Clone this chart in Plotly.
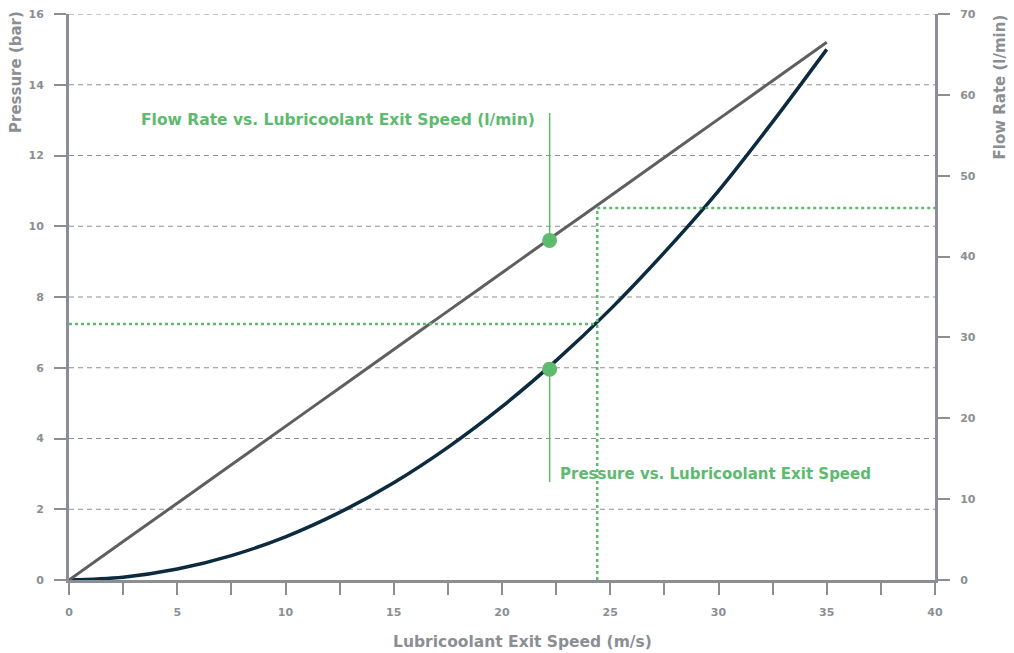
import plotly.graph_objects as go

speed = [0, 2.5, 5, 7.5, 10, 12.5, 15, 17.5, 20, 22.5, 25, 27.5, 30, 32.5, 35]
pressure_bar = [0, 0.08, 0.31, 0.69, 1.22, 1.91, 2.75, 3.75, 4.9, 6.2, 7.65, 9.26, 11.0, 12.95, 15.0]
flow_lmin = [0, 4.75, 9.5, 14.25, 19.0, 23.75, 28.5, 33.25, 38.0, 42.75, 47.5, 52.25, 57.0, 61.75, 66.5]

marker_speed = 22.2
marker_pressure = 5.96
marker_flow = 42.0

ref_speed = 24.4
ref_pressure = 7.24
ref_flow = 46.0

x_ticks = [0, 2.5, 5, 7.5, 10, 12.5, 15, 17.5, 20, 22.5, 25, 27.5, 30, 32.5, 35, 37.5, 40]
x_labels = ["0", "", "5", "", "10", "", "15", "", "20", "", "25", "", "30", "", "35", "", "40"]
y_ticks = [0, 2, 4, 6, 8, 10, 12, 14, 16]
y2_ticks = [0, 10, 20, 30, 40, 50, 60, 70]

GREEN = "#5dba6e"
AXIS = "#8b8f93"
FONT = "DejaVu Sans"

fig = go.Figure()
fig.add_trace(go.Scatter(x=speed, y=flow_lmin, yaxis="y2", mode="lines",
                         line=dict(color="#5e5f61", width=3), line_shape="spline",
                         hoverinfo="skip", showlegend=False))
fig.add_trace(go.Scatter(x=speed, y=pressure_bar, mode="lines",
                         line=dict(color="#0c2b3e", width=3.5), line_shape="spline",
                         hoverinfo="skip", showlegend=False))
fig.add_trace(go.Scatter(x=[marker_speed], y=[marker_flow], yaxis="y2", mode="markers",
                         marker=dict(color=GREEN, size=15), showlegend=False))
fig.add_trace(go.Scatter(x=[marker_speed], y=[marker_pressure], mode="markers",
                         marker=dict(color=GREEN, size=15), showlegend=False))

shapes = []
for t in y_ticks[1:]:
    shapes.append(dict(type="line", xref="x", yref="y", x0=0, x1=40, y0=t, y1=t,
                       line=dict(color="#8e9092", width=1.2, dash="5px,4px"), layer="below"))

ref_top_p = ref_flow * 16 / 70
shapes.append(dict(type="line", xref="x", yref="y", x0=ref_speed, x1=ref_speed, y0=0, y1=ref_top_p,
                   line=dict(color=GREEN, width=2.5, dash="dot")))
shapes.append(dict(type="line", xref="x", yref="y", x0=0, x1=ref_speed, y0=ref_pressure, y1=ref_pressure,
                   line=dict(color=GREEN, width=2.5, dash="dot")))
shapes.append(dict(type="line", xref="x", yref="y2", x0=ref_speed, x1=40, y0=ref_flow, y1=ref_flow,
                   line=dict(color=GREEN, width=2.5, dash="dot")))
shapes.append(dict(type="line", xref="x", yref="y", x0=marker_speed, x1=marker_speed,
                   y0=marker_flow * 16 / 70, y1=13.2, line=dict(color=GREEN, width=1.5)))
shapes.append(dict(type="line", xref="x", yref="y", x0=marker_speed, x1=marker_speed,
                   y0=marker_pressure, y1=2.77, line=dict(color=GREEN, width=1.5)))

annotations = [
    dict(text="<b>Flow Rate vs. Lubricoolant Exit Speed (l/min)</b>", xref="x", yref="y",
         x=marker_speed, y=13.0, xanchor="right", yanchor="middle", xshift=-13, showarrow=False,
         font=dict(family=FONT, size=15.5, color=GREEN)),
    dict(text="<b>Pressure vs. Lubricoolant Exit Speed</b>", xref="x", yref="y",
         x=marker_speed, y=3.0, xanchor="left", yanchor="middle", xshift=8, showarrow=False,
         font=dict(family=FONT, size=15, color=GREEN)),
    dict(text="<b>Pressure (bar)</b>", xref="paper", yref="paper", x=0, y=1,
         xanchor="center", yanchor="top", xshift=-53, yshift=5, textangle=-90, showarrow=False,
         font=dict(family=FONT, size=15, color=AXIS)),
    dict(text="<b>Flow Rate (l/min)</b>", xref="paper", yref="paper", x=1, y=1,
         xanchor="center", yanchor="top", xshift=64, yshift=1, textangle=-90, showarrow=False,
         font=dict(family=FONT, size=15, color=AXIS)),
    dict(text="<b>Lubricoolant Exit Speed (m/s)</b>", xref="paper", yref="paper", x=0.5, y=0,
         xanchor="center", yanchor="middle", xshift=20, yshift=-62, showarrow=False,
         font=dict(family=FONT, size=15.5, color=AXIS)),
]

tf = dict(family=FONT, size=11, color=AXIS, weight="bold")

fig.update_layout(
    width=1014, height=653,
    margin=dict(l=69, r=79, t=14, b=73),
    paper_bgcolor="white", plot_bgcolor="white",
    shapes=shapes, annotations=annotations,
    font=dict(family=FONT, color=AXIS),
    xaxis=dict(range=[0, 40], tickvals=x_ticks, ticktext=x_labels, showgrid=False, zeroline=False,
               showline=True, linecolor=AXIS, linewidth=3, ticks="outside", ticklen=12, tickwidth=2,
               tickcolor=AXIS, tickfont=tf, ticklabelstandoff=8, automargin=False),
    yaxis=dict(range=[0, 16], tickvals=y_ticks, showgrid=False, zeroline=False,
               showline=True, linecolor=AXIS, linewidth=3, ticks="outside", ticklen=12, tickwidth=2,
               tickcolor=AXIS, tickfont=tf, ticklabelstandoff=8, automargin=False),
    yaxis2=dict(range=[0, 70], tickvals=y2_ticks, overlaying="y", side="right", showgrid=False,
                zeroline=False, showline=True, linecolor=AXIS, linewidth=3, ticks="outside",
                ticklen=12, tickwidth=2, tickcolor=AXIS, tickfont=tf, ticklabelstandoff=8,
                automargin=False),
)

fig.write_html("out.html", config={"displayModeBar": False},
               post_script="document.body.style.margin='0';document.body.style.overflow='hidden';")
